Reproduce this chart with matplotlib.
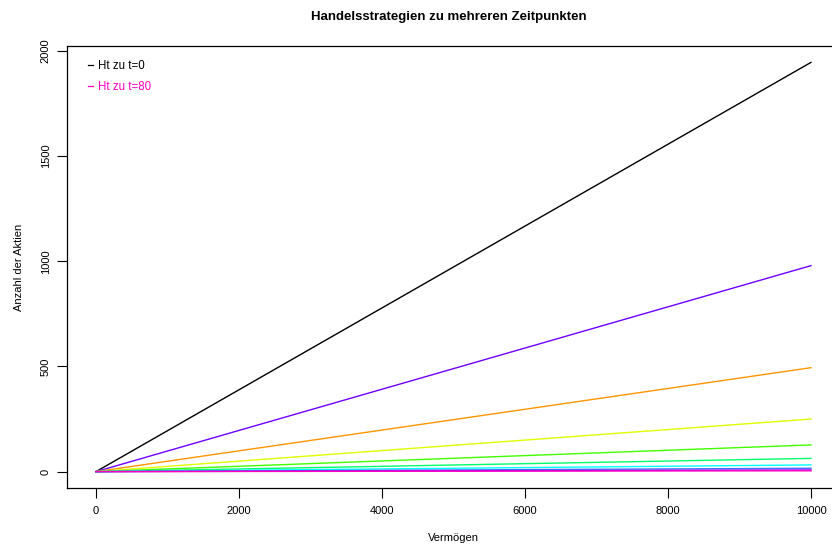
import matplotlib
matplotlib.use("Agg")
import matplotlib.pyplot as plt
from matplotlib.lines import Line2D

plt.rcParams["font.family"] = ["Liberation Sans", "DejaVu Sans"]

# Vermögen range and Aktienanzahl at the end of the range for each Zeitpunkt
wealth = [0, 10000]
end_shares = [1945, 979, 494, 250, 127, 63, 32, 16, 8, 4]
line_colors = ["black", "#7000FF", "#FF9500", "#DFFF00", "#40FF00",
               "#00FF6A", "#00FFFF", "#4070FF", "#9A00FF", "#FF00BF"]
legend_labels = ["Ht zu t=0", "Ht zu t=80"]
legend_colors = ["black", "#FF00BF"]
xticks = [0, 2000, 4000, 6000, 8000, 10000]
yticks = [0, 500, 1000, 1500, 2000]

W, H = 832, 548
fig = plt.figure(figsize=(W / 100, H / 100), dpi=100)
ax = fig.add_axes([67.4 / W, (H - 488) / H, (839.6 - 67.4) / W, (488 - 46) / H])

for v, c in zip(end_shares, line_colors):
    ax.plot(wealth, [0, v], color=c, lw=1.0)

ax.set_xlim(-400, 10400)
ax.set_ylim(-0.04 * end_shares[0], 1.04 * end_shares[0])
ax.set_xticks(xticks)
ax.set_yticks(yticks)
ax.set_yticklabels([str(t) for t in yticks], rotation=90, va="center")
ax.tick_params(direction="out", length=7, width=0.8, labelsize=8)
ax.tick_params(axis="x", pad=6)
ax.tick_params(axis="y", pad=5)
for s in ax.spines.values():
    s.set_linewidth(0.9)

ax.set_xlabel("Vermögen", fontsize=8, labelpad=12)
ax.set_ylabel("Anzahl der Aktien", fontsize=8, labelpad=12)
fig.text(449 / W, 1 - 17 / H, "Handelsstrategien zu mehreren Zeitpunkten",
         ha="center", va="center", fontsize=9.5, fontweight="bold")

handles = [Line2D([0], [0], color=c, lw=0.9) for c in legend_colors]
leg = ax.legend(handles, legend_labels, loc="upper left", frameon=False,
                handlelength=0.45, handletextpad=0.45, labelspacing=0.75,
                fontsize=8.3, labelcolor=legend_colors,
                bbox_to_anchor=(0.013, 0.992))

fig.savefig("out.png", dpi=100)
